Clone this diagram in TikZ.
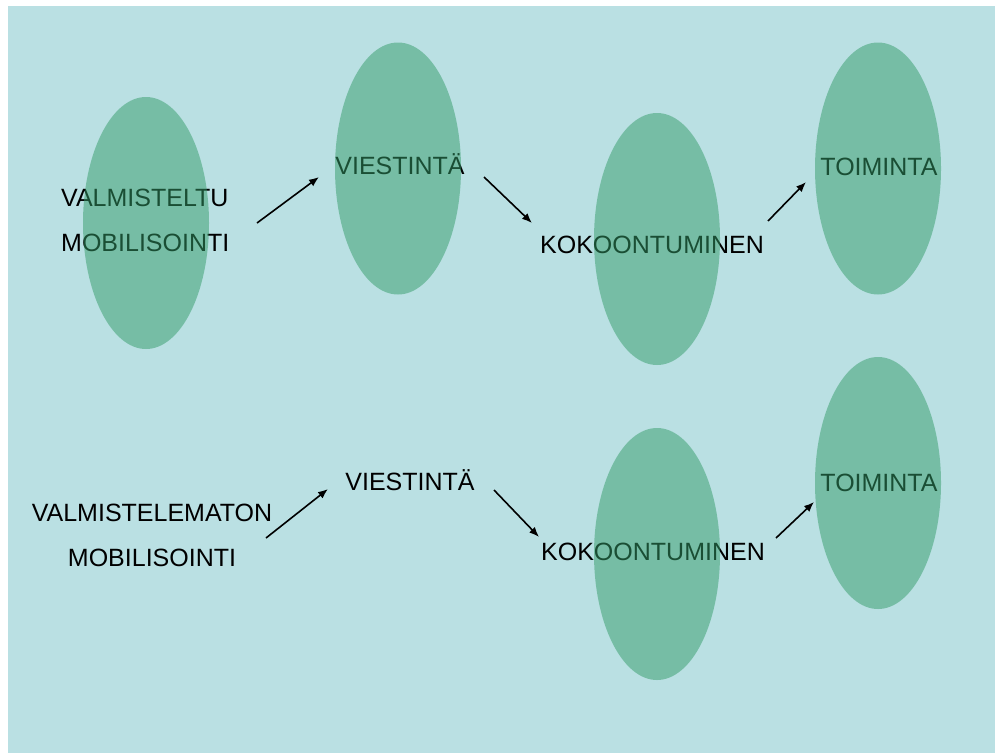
\documentclass[tikz,border=0pt]{standalone}
\usepackage{fontspec}
\setmainfont{Liberation Sans}
\usetikzlibrary{shapes.geometric,arrows.meta}
\definecolor{bgteal}{RGB}{186,224,227}
\definecolor{blobgreen}{RGB}{52,156,105}
\begin{document}
\begin{tikzpicture}
[
x=1pt, y=-1pt,
word/.style={anchor=base, inner sep=0, font=\fontsize{25}{30}\selectfont},
blob/.style={ellipse, fill=blobgreen, fill opacity=0.5, minimum width=126pt, minimum height=252pt, inner sep=0},
arr/.style={-{Latex[length=10pt,width=8pt]}, line width=1.6pt}
]
\useasboundingbox (0,0) rectangle (995,753);
\fill[bgteal] (8,6) rectangle (995,753);

% upper row
\node[word, anchor=base west] (valm)  at (61, 206) {VALMISTELTU};
\node[word, anchor=base west] (mob)   at (61, 251) {MOBILISOINTI};
\node[word] (vies)  at (400, 174) {VIESTINTÄ};
\node[word] (koko)  at (652, 253) {KOKOONTUMINEN};
\node[word] (toim)  at (879, 175) {TOIMINTA};

% lower row
\node[word] (valmb) at (152, 521) {VALMISTELEMATON};
\node[word] (mobb)  at (152, 566) {MOBILISOINTI};
\node[word] (viesb) at (410, 490) {VIESTINTÄ};
\node[word] (kokob) at (653, 560) {KOKOONTUMINEN};
\node[word] (toimb) at (879, 491) {TOIMINTA};

\coordinate (a1) at (257, 223); \coordinate (a2) at (319, 177);
\coordinate (a3) at (484, 177); \coordinate (a4) at (532, 223);
\coordinate (a5) at (768, 221); \coordinate (a6) at (806, 182);
\coordinate (b1) at (266, 538); \coordinate (b2) at (328, 489);
\coordinate (b3) at (494, 490); \coordinate (b4) at (539, 537);
\coordinate (b5) at (776, 538); \coordinate (b6) at (814, 502);

\draw[arr] (a1) -- (a2);
\draw[arr] (a3) -- (a4);
\draw[arr] (a5) -- (a6);
\draw[arr] (b1) -- (b2);
\draw[arr] (b3) -- (b4);
\draw[arr] (b5) -- (b6);

% ellipses over the words
\node[blob] (e1) at (146, 223) {};
\node[blob] (e2) at (398, 168.5) {};
\node[blob] (e3) at (657, 239) {};
\node[blob] (e4) at (878, 168.5) {};
\node[blob] (e5) at (657, 554) {};
\node[blob] (e6) at (878, 483) {};
\end{tikzpicture}
\end{document}
